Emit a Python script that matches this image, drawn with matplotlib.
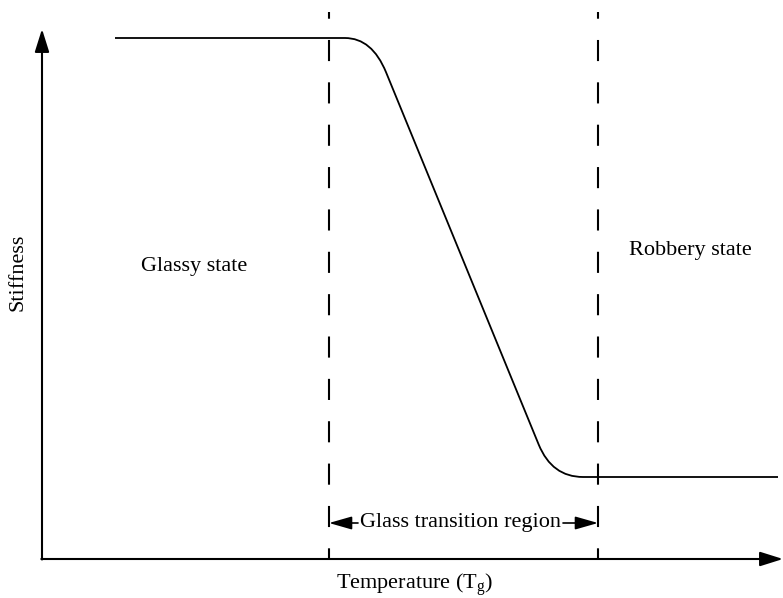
import matplotlib
matplotlib.use('Agg')
import matplotlib.pyplot as plt
from matplotlib.path import Path
from matplotlib.patches import PathPatch

# schematic stiffness curve (arbitrary units, origin at axis corner)
temp_start = 73        # where glassy plateau begins
temp_end = 736         # end of rubbery plateau
knee_temps = [330, 510]      # corner temperatures of the transition line
stiff_levels = [521, 82]     # glassy / rubbery stiffness
round_in = [27, 35]          # rounding before each knee
round_out = [37, 31]         # rounding after each knee
region_bounds = [287, 556]   # dashed lines of glass transition region
dash_top = 547
x_max, y_max = 741, 530

plt.rcParams['font.family'] = ['Liberation Serif', 'DejaVu Serif']
plt.rcParams['mathtext.fontset'] = 'custom'
plt.rcParams['mathtext.rm'] = 'Liberation Serif'
plt.rcParams['lines.scale_dashes'] = False

fig = plt.figure(figsize=(7.83, 5.98), dpi=100)
ax = fig.add_axes([0, 0, 1, 1])
ax.set_xlim(-42, 741)
ax.set_ylim(-39, 559)
ax.axis('off')

# build the curve with rounded knees
x1, x2 = knee_temps
y1, y2 = stiff_levels
dx, dy = x2 - x1, y2 - y1
L = (dx**2 + dy**2) ** 0.5
ux, uy = dx / L, dy / L
verts = [(temp_start, y1),
         (x1 - round_in[0], y1),
         (x1, y1),
         (x1 + ux * round_out[0], y1 + uy * round_out[0]),
         (x2 - ux * round_in[1], y2 - uy * round_in[1]),
         (x2, y2),
         (x2 + round_out[1], y2),
         (temp_end, y2)]
codes = [Path.MOVETO, Path.LINETO, Path.CURVE3, Path.CURVE3,
         Path.LINETO, Path.CURVE3, Path.CURVE3, Path.LINETO]
ax.add_patch(PathPatch(Path(verts, codes), facecolor='none',
                       edgecolor='black', lw=1.3))

# dashed region bounds
for xb in region_bounds:
    ax.plot([xb, xb], [0, dash_top], color='black', lw=1.5,
            linestyle=(7.5, (15.2, 15.3)), solid_capstyle='butt')

# axes with arrows
ax.annotate('', xy=(0, y_max), xytext=(0, -0.5),
            arrowprops=dict(arrowstyle='-|>,head_length=0.7,head_width=0.22',
                            color='black', lw=1.5, mutation_scale=20,
                            shrinkA=0, shrinkB=0))
ax.annotate('', xy=(x_max, 0), xytext=(-0.7, 0), annotation_clip=False,
            arrowprops=dict(arrowstyle='-|>,head_length=0.7,head_width=0.22',
                            color='black', lw=1.5, mutation_scale=20,
                            shrinkA=0, shrinkB=0))

# glass transition region annotation
y_reg = 36
ax.text(418.5, y_reg, 'Glass transition region', fontsize=16,
        ha='center', va='center')
ax.annotate('', xy=(region_bounds[0], y_reg), xytext=(316, y_reg),
            arrowprops=dict(arrowstyle='-|>,head_length=0.7,head_width=0.2',
                            color='black', lw=1.2, mutation_scale=20,
                            shrinkA=0, shrinkB=0))
ax.annotate('', xy=(region_bounds[1], y_reg), xytext=(521, y_reg),
            arrowprops=dict(arrowstyle='-|>,head_length=0.7,head_width=0.2',
                            color='black', lw=1.2, mutation_scale=20,
                            shrinkA=0, shrinkB=0))

ax.text(152, 292, 'Glassy state', fontsize=16, ha='center', va='center')
ax.text(648, 309, 'Robbery state', fontsize=16, ha='center', va='center')
ax.text(-24, 287, 'Stiffness', fontsize=16, rotation=90, ha='center', va='center')
ax.text(373, -26, r'Temperature (T$_\mathrm{g}$)', fontsize=16,
        ha='center', va='center')

fig.savefig('out.png', dpi=100)
